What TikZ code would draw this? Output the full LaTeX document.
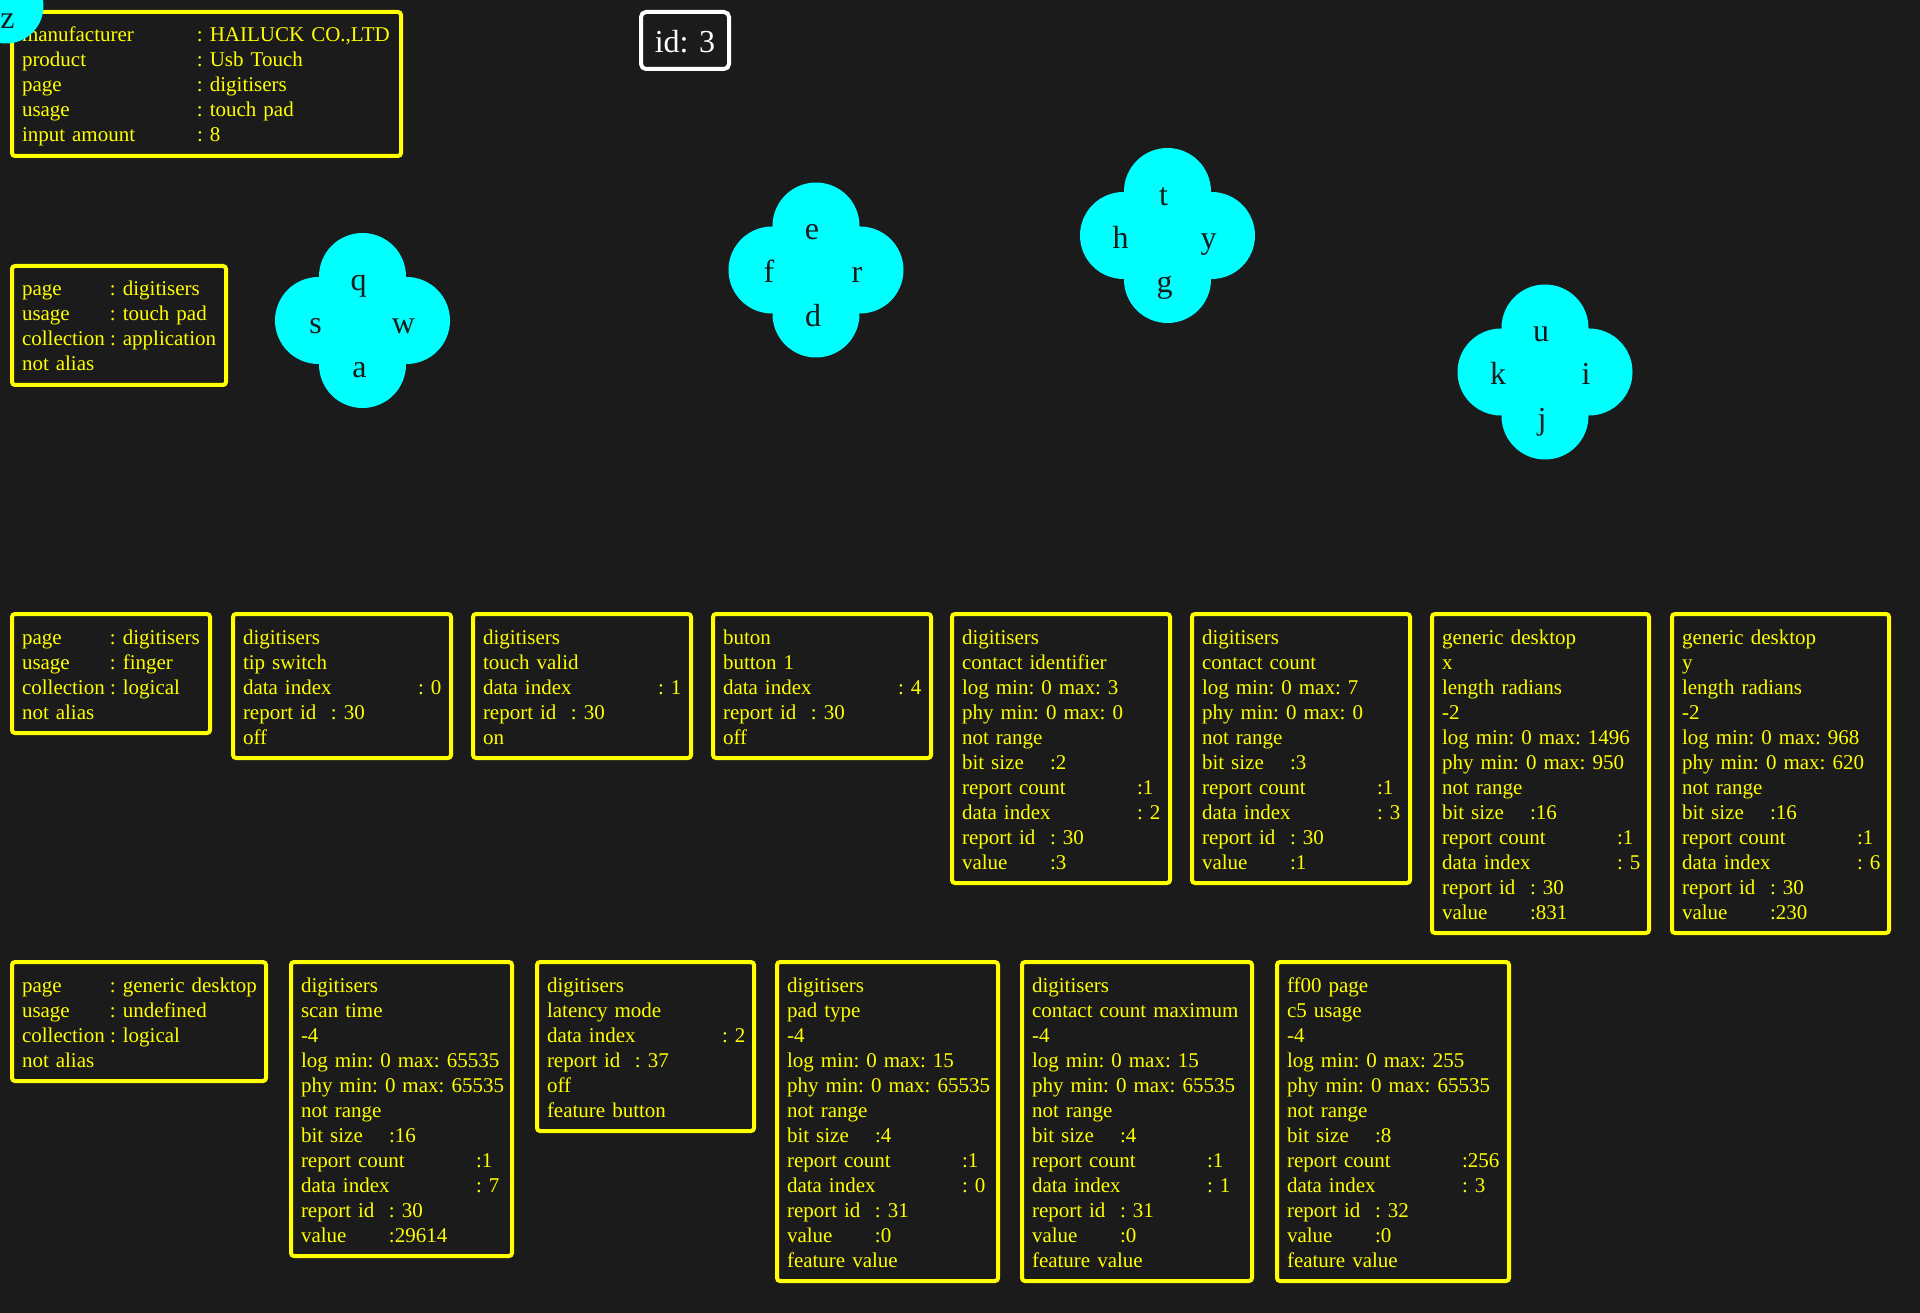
\documentclass[tikz,border=0pt]{standalone}
\usepackage{fontspec}
\setmainfont{Liberation Serif}
\definecolor{bg}{RGB}{27,27,27}
\definecolor{boxyellow}{RGB}{255,255,0}
\definecolor{lobecyan}{RGB}{0,255,255}
\newcommand{\boxfont}{\fontsize{21pt}{25pt}\selectfont\frenchspacing}
\newcommand{\keyfont}{\fontsize{32pt}{38pt}\selectfont}
\newcommand{\tabA}[2]{\mbox{\makebox[88pt][l]{#1}#2}}
\newcommand{\tabB}[2]{\mbox{\makebox[175pt][l]{#1}#2}}
\newcommand{\firstrow}{\vrule height18pt depth0pt width0pt}
\newcommand{\lastrow}{\vrule height0pt depth2pt width0pt}

\begin{document}
\begin{tikzpicture}[x=1pt,y=-1pt,
  infobox/.style={draw=boxyellow, line width=4pt, rounded corners=3pt, text=boxyellow,
    anchor=north west, outer sep=0pt, align=left, inner xsep=10pt, inner ysep=12pt, font=\boxfont,
    execute at begin node=\firstrow, execute at end node=\lastrow},
  lobe/.style={fill=lobecyan},
  key/.style={text=bg, font=\keyfont, anchor=base}]
\useasboundingbox (0,0) rectangle (1920,1313);
\fill[bg] (0,0) rectangle (1920,1313);

% device and id
\node[infobox, text width=369pt] (dev) at (12,12) {\tabB{manufacturer}{: HAILUCK CO.,LTD}\\
  \tabB{product}{: Usb Touch}\\ \tabB{page}{: digitisers}\\ \tabB{usage}{: touch pad}\\
  \tabB{\smash{input amount}}{: 8}};
\node[draw=white, line width=4pt, rounded corners=5pt, text=white, font=\keyfont,
  minimum width=88pt, minimum height=57pt, inner sep=0pt, text height=25pt, text depth=0pt]
  (id) at (685,40.5) {id: 3};

% application collection
\node[infobox, text width=194pt] (app) at (12,266) {\tabA{page}{: digitisers}\\
  \tabA{usage}{: touch pad}\\ \tabA{collection}{: application}\\ not alias};

% clovers
\foreach \cx/\cy/\kt/\kr/\kb/\kl in {362.5/320.5/q/w/a/s, 816/270/e/r/d/f,
    1167.5/235.5/t/y/g/h, 1545/372/u/i/j/k}{
  \fill[lobe] (\cx,\cy-44) circle (43.5) (\cx+44,\cy) circle (43.5)
    (\cx,\cy+44) circle (43.5) (\cx-44,\cy) circle (43.5);
  \fill[lobe] (\cx,\cy-44) -- (\cx+44,\cy) -- (\cx,\cy+44) -- (\cx-44,\cy) -- cycle;
  \node[key] (\kt) at (\cx-4,\cy-30) {\kt};
  \node[key] (\kr) at (\cx+41,\cy+13) {\kr};
  \node[key] (\kb) at (\cx-3,\cy+57) {\kb};
  \node[key] (\kl) at (\cx-47,\cy+13) {\kl};
}

% first row
\node[infobox, text width=178pt] (finger) at (12,614) {\tabA{page}{: digitisers}\\
  \tabA{usage}{: finger}\\ \tabA{collection}{: logical}\\ not alias};
\node[infobox, text width=198pt] (tip) at (233,614) {digitisers\\ tip switch\\
  \tabB{data index}{: 0}\\ \tabA{report id}{: 30}\\ off};
\node[infobox, text width=198pt] (valid) at (473,614) {digitisers\\ touch valid\\
  \tabB{data index}{: 1}\\ \tabA{report id}{: 30}\\ on};
\node[infobox, text width=198pt] (btn) at (713,614) {buton\\ button 1\\
  \tabB{data index}{: 4}\\ \tabA{report id}{: 30}\\ off};
\node[infobox, text width=198pt] (ident) at (952,614) {digitisers\\ contact identifier\\
  \mbox{log min: 0 max: 3}\\ \mbox{phy min: 0 max: 0}\\ not range\\ \tabA{bit size}{:2}\\
  \tabB{report count}{:1}\\ \tabB{data index}{: 2}\\ \tabA{report id}{: 30}\\ \tabA{value}{:3}};
\node[infobox, text width=198pt] (count) at (1192,614) {digitisers\\ contact count\\
  \mbox{log min: 0 max: 7}\\ \mbox{phy min: 0 max: 0}\\ not range\\ \tabA{bit size}{:3}\\
  \tabB{report count}{:1}\\ \tabB{data index}{: 3}\\ \tabA{report id}{: 30}\\ \tabA{value}{:1}};
\node[infobox, text width=197pt] (gx) at (1432,614) {generic desktop\\ x\\ length radians\\ -2\\
  \mbox{log min: 0 max: 1496}\\ \mbox{phy min: 0 max: 950}\\ not range\\ \tabA{bit size}{:16}\\
  \tabB{report count}{:1}\\ \tabB{data index}{: 5}\\ \tabA{report id}{: 30}\\ \tabA{value}{:831}};
\node[infobox, text width=197pt] (gy) at (1672,614) {generic desktop\\ y\\ length radians\\ -2\\
  \mbox{log min: 0 max: 968}\\ \mbox{phy min: 0 max: 620}\\ not range\\ \tabA{bit size}{:16}\\
  \tabB{report count}{:1}\\ \tabB{data index}{: 6}\\ \tabA{report id}{: 30}\\ \tabA{value}{:230}};

% second row
\node[infobox, text width=234pt] (desk) at (12,962) {\tabA{page}{: generic desktop}\\
  \tabA{usage}{: undefined}\\ \tabA{collection}{: logical}\\ not alias};
\node[infobox, text width=201pt] (scan) at (291,962) {digitisers\\ scan time\\ -4\\
  \mbox{log min: 0 max: 65535}\\ \mbox{phy min: 0 max: 65535}\\ not range\\ \tabA{bit size}{:16}\\
  \tabB{report count}{:1}\\ \tabB{data index}{: 7}\\ \tabA{report id}{: 30}\\ \tabA{value}{:29614}};
\node[infobox, text width=197pt] (latency) at (537,962) {digitisers\\ latency mode\\
  \tabB{data index}{: 2}\\ \tabA{report id}{: 37}\\ off\\ feature button};
\node[infobox, text width=201pt] (pad) at (777,962) {digitisers\\ pad type\\ -4\\
  \mbox{log min: 0 max: 15}\\ \mbox{phy min: 0 max: 65535}\\ not range\\ \tabA{bit size}{:4}\\
  \tabB{report count}{:1}\\ \tabB{data index}{: 0}\\ \tabA{report id}{: 31}\\ \tabA{value}{:0}\\
  feature value};
\node[infobox, text width=210pt] (maxc) at (1022,962) {digitisers\\ \mbox{contact count maximum}\\ -4\\
  \mbox{log min: 0 max: 15}\\ \mbox{phy min: 0 max: 65535}\\ not range\\ \tabA{bit size}{:4}\\
  \tabB{report count}{:1}\\ \tabB{data index}{: 1}\\ \tabA{report id}{: 31}\\ \tabA{value}{:0}\\
  feature value};
\node[infobox, text width=212pt] (vendor) at (1277,962) {ff00 page\\ c5 usage\\ -4\\
  \mbox{log min: 0 max: 255}\\ \mbox{phy min: 0 max: 65535}\\ not range\\ \tabA{bit size}{:8}\\
  \tabB{report count}{:256}\\ \tabB{data index}{: 3}\\ \tabA{report id}{: 32}\\ \tabA{value}{:0}\\
  feature value};

% corner key
\fill[lobe] (6,6) circle (37.5);
\node[key] (z) at (7.5,29) {z};
\end{tikzpicture}
\end{document}
